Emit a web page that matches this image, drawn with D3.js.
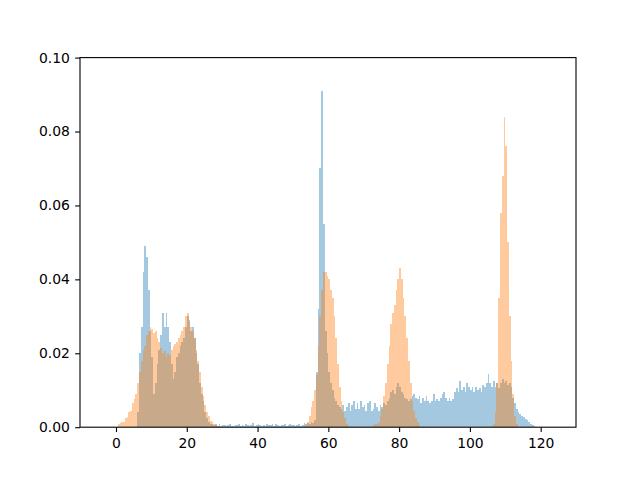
<!DOCTYPE html>
<html><head><meta charset="utf-8">
<script src="https://cdn.jsdelivr.net/npm/d3@7"></script>
<style>body{margin:0;background:#fff} svg{display:block}</style>
</head><body>
<svg id="c" width="640" height="480"></svg>
<script>
// Histogram bins: width 0.5 units; values are densities in thousandths (x 1e-3)
const binWidth = 0.5;
const xTicks = [0, 20, 40, 60, 80, 100, 120];
const yTicks = [0, 0.02, 0.04, 0.06, 0.08, 0.10];

const blueStart = 6.0;
const blueValues = [
  4, 20, 27, 42, 49, 46, 37, 26, 19, 9,
  12, 17, 21, 25, 31, 27, 31, 27, 23, 17,
  13, 15, 19, 20, 22, 23, 24, 27, 30, 29,
  26, 27, 24, 20, 17, 12, 9, 7, 4, 2.5,
  1.5, 1, 0.8, 0.6, 1.0, 0.4, 0.8, 0.3, 0.7, 0.5,
  0.2, 0.6, 0.9, 0.4, 0.3, 0.7, 0.5, 0.8, 0.4, 0.6,
  0.3, 0.9, 0.5, 0.4, 0.7, 1.1, 0.3, 0.5, 0.8, 0.6,
  0.4, 0.7, 0.3, 0.9, 0.6, 0.5, 0.8, 0.4, 1.0, 0.6,
  0.3, 0.7, 0.5, 0.9, 0.4, 0.6, 0.8, 0.5, 0.7, 0.3,
  0.6, 0.9, 0.4, 0.7, 1.2, 0.8, 1.1, 0.9, 1.3, 1.2,
  2, 15, 32, 70, 91, 55, 26, 20, 15, 12,
  10, 8, 7, 6, 5.5, 5, 6, 4.5, 5.5, 6.5,
  4.5, 6, 7, 5, 6.5, 5, 7, 5.5, 6, 4.5,
  6.5, 7, 4.5, 5, 6.5, 5.5, 4.5, 6, 5.5, 6.5,
  6, 7, 8, 9.5, 10, 9, 11, 12, 11, 9.5,
  9, 8, 7.5, 7, 7.5, 8.5, 9, 8, 7.5, 8.5,
  6.5, 8, 7, 8.5, 7, 6.5, 7, 9, 7, 7.5,
  7, 8, 9, 9.5, 8, 7, 8, 7, 7.5, 9.5,
  10.5, 9.5, 12.5, 10, 11, 9.5, 12, 11, 10, 11,
  9.5, 11, 10, 10.5, 9.5, 11.5, 11, 12, 14.5, 12,
  11, 12.5, 11, 12, 10.5, 12, 13, 12, 12.5, 11.5,
  12, 11, 8, 6.5, 5, 4, 3.5, 3, 2.7, 2.2,
  2, 1.3, 1, 0.6, 0.3
];

const orangeStartA = 0.5;
const orangeA = [
  0.8, 1.2, 1.5, 1.5, 2.5, 2.8, 4, 4.5, 6.5, 7.5,
  9, 12, 15, 18, 21, 22, 25, 26, 27, 26.5,
  25.5, 26, 24, 23, 21.5, 20, 20.5, 19, 20, 19.5,
  21, 22, 22.5, 23, 24, 25, 26, 27, 30, 31,
  28.5, 27, 26, 24, 21, 18, 15, 11, 8.5, 6,
  4, 3, 1.7, 1.3, 0.9, 0.6, 0.3
];
const orangeStartB = 53.5;
const orangeB = [0.5, 1.3, 3, 5.5, 7, 10, 14, 22, 30, 37, 42, 42, 41, 40, 37, 35, 30, 24, 17, 11, 7, 4, 2.5, 1, 0.4];
const orangeStartC = 72.5;
const orangeC = [0.5, 0.8, 1, 1.2, 3, 5, 8.5, 12, 17, 22, 28, 31, 33, 37, 40, 43, 40, 35, 30, 24, 18, 12, 7, 4.5, 2.5, 1.3, 0.6];
const orangeStartD = 106.0;
const orangeD = [0.3, 1, 4, 12, 35, 58, 68, 84, 76, 50, 30, 18, 9, 3, 1];

function toBins(start, vals) {
  return vals.map((v, i) => ({x0: start + i * binWidth, x1: start + (i + 1) * binWidth, d: v / 1000}));
}
const blueBins = toBins(blueStart, blueValues);
const orangeBins = [].concat(
  toBins(orangeStartA, orangeA), toBins(orangeStartB, orangeB),
  toBins(orangeStartC, orangeC), toBins(orangeStartD, orangeD));

const L = 80, R = 576, T = 57.6, B = 427.2;
const x = d3.scaleLinear().domain([-10.17, 129.98]).range([L, R]);
const y = d3.scaleLinear().domain([0, 0.1]).range([B, T]);
const svg = d3.select('#c');

// Pixel-snapped opaque bars inside a translucent group (no seams, no double alpha)
function drawBars(bins, color) {
  svg.append('g').attr('opacity', 0.4)
    .selectAll('rect').data(bins).join('rect')
    .attr('x', d => Math.round(x(d.x0)))
    .attr('width', d => Math.round(x(d.x1)) - Math.round(x(d.x0)))
    .attr('y', d => y(d.d)).attr('height', d => y(0) - y(d.d))
    .attr('fill', color).attr('shape-rendering', 'crispEdges');
}
drawBars(blueBins, '#1f77b4');
drawBars(orangeBins, '#ff7f0e');

const font = '"DejaVu Sans", sans-serif';
const xAxis = svg.append('g').attr('transform', `translate(0,${B})`)
  .call(d3.axisBottom(x).tickValues(xTicks).tickFormat(d3.format('d')).tickSize(4.86).tickSizeOuter(0).tickPadding(6.2));
const yAxis = svg.append('g').attr('transform', `translate(${L},0)`)
  .call(d3.axisLeft(y).tickValues(yTicks).tickFormat(d3.format('.2f')).tickSize(4.86).tickSizeOuter(0).tickPadding(5.2));
[xAxis, yAxis].forEach(a => {
  a.select('.domain').remove();
  a.selectAll('line').attr('stroke', '#000').attr('stroke-width', 1.1);
  a.selectAll('text').attr('fill', '#000').style('font-family', font).style('font-size', '13.9px');
});

svg.append('rect').attr('x', L).attr('y', T).attr('width', R - L).attr('height', B - T)
  .attr('fill', 'none').attr('stroke', '#000').attr('stroke-width', 1.1);
</script>
</body></html>
